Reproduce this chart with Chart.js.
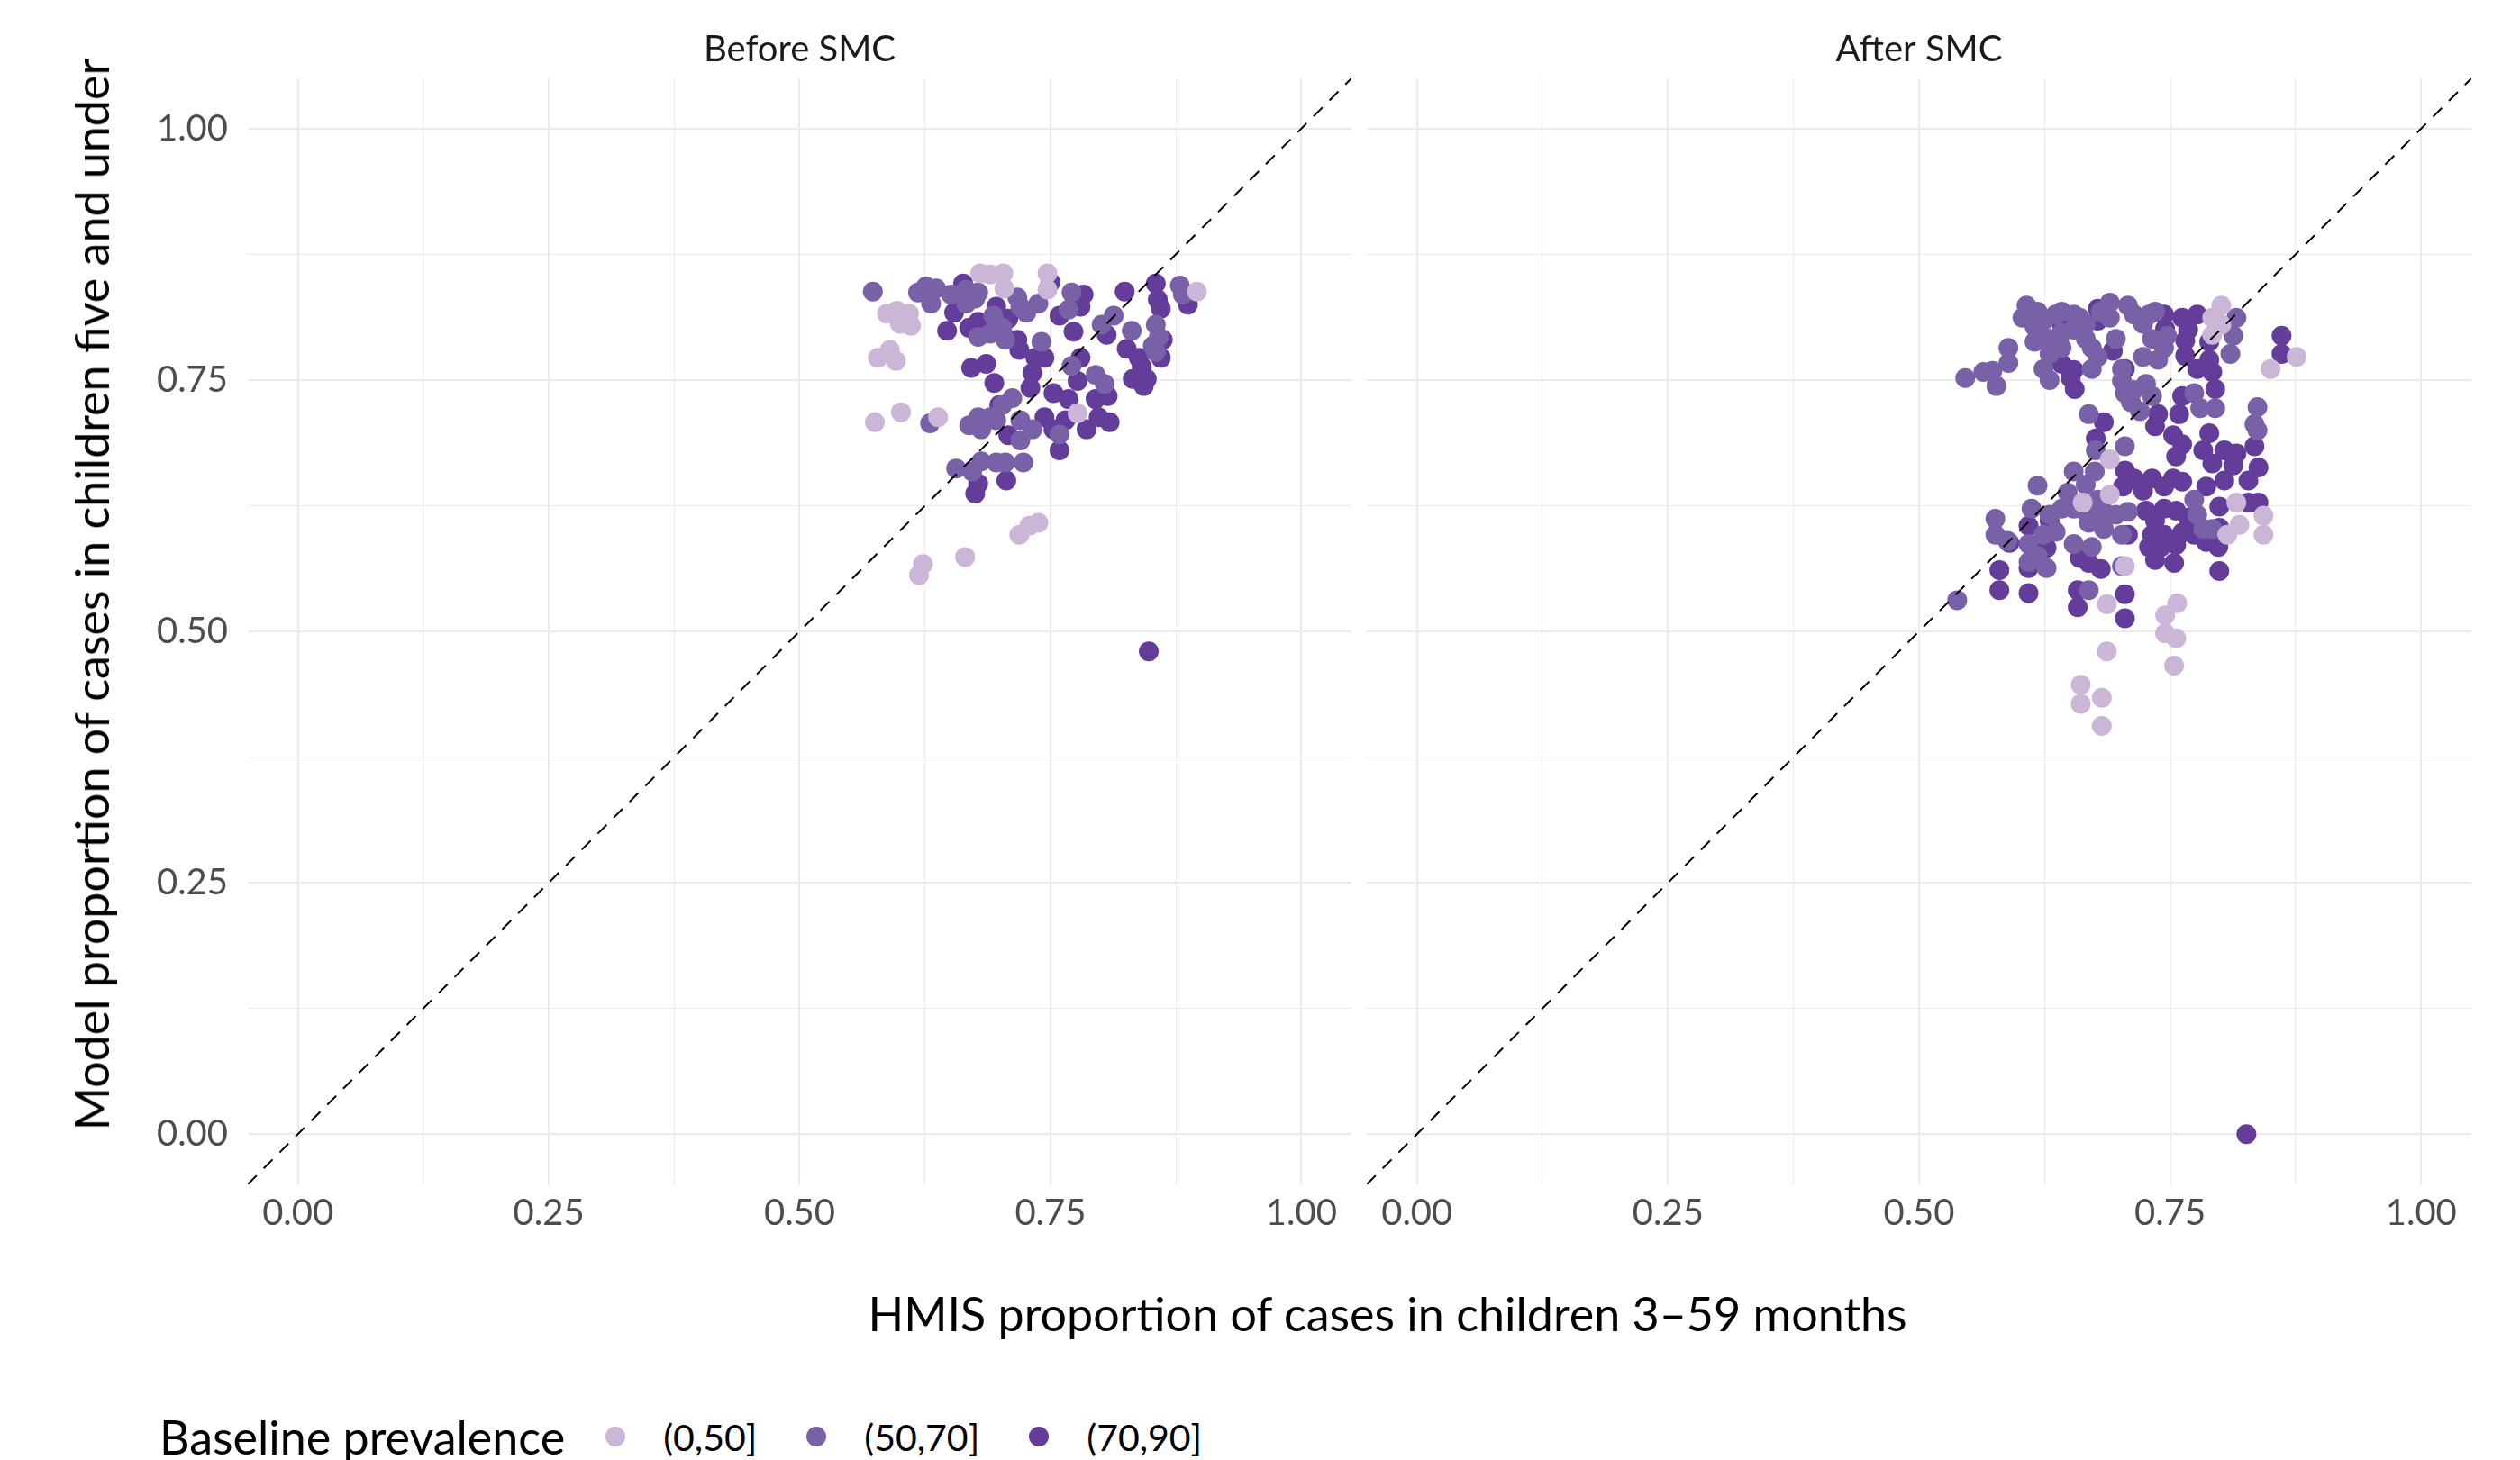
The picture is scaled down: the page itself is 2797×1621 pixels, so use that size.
<!DOCTYPE html>
<html>
<head>
<meta charset="utf-8">
<script src="https://cdn.jsdelivr.net/npm/chart.js@4.4.1/dist/chart.umd.min.js"></script>
<style>
  html, body { margin: 0; padding: 0; background: #fff; }
  body { width: 2797px; height: 1621px; position: relative; overflow: hidden; font-family: Lato, sans-serif; }
  #before { position: absolute; left: 0; top: 0; }
  #after { position: absolute; left: 1505px; top: 0; z-index: 1; }
  #xTitle { position: absolute; left: 1540px; top: 1427px; transform: translateX(-50%); white-space: nowrap;
            font-size: 52px; color: #000; }
  #yTitle { position: absolute; left: 101px; top: 660px; transform: translate(-50%, -50%) rotate(-90deg);
            white-space: nowrap; font-size: 52px; color: #000; }
  #legend { position: absolute; left: 177px; top: 1564px; display: flex; align-items: center; white-space: nowrap; }
  #legend .ttl { font-size: 52px; color: #000; margin-right: 45px; }
  #legend .dot { width: 22px; height: 22px; border-radius: 50%; margin-right: 42px; }
  #legend .lab { font-size: 41px; color: #000; margin-right: 55px; }
</style>
</head>
<body>
<canvas id="before" width="1511" height="1400"></canvas>
<canvas id="after" width="1292" height="1400"></canvas>
<div id="yTitle">Model proportion of cases in children five and under</div>
<div id="xTitle">HMIS proportion of cases in children 3–59 months</div>
<div id="legend"></div>
<script>
// baseline prevalence groups
const categories = ["(0,50]", "(50,70]", "(70,90]"];
const colors = ["#CBB6D8", "#7961A8", "#633D99"];

// axis breaks
const majorBreaks = [0, 0.25, 0.5, 0.75, 1];
const minorBreaks = [0.125, 0.375, 0.625, 0.875];
const breakLabels = ["0.00", "0.25", "0.50", "0.75", "1.00"];
const refLine = [-0.05, 1.05];

// [HMIS proportion, model proportion]
const beforeLow = [
  [0.680,0.856],[0.690,0.855],[0.703,0.856],[0.704,0.841],[0.747,0.856],[0.747,0.840],[0.896,0.838],
  [0.587,0.816],[0.597,0.819],[0.609,0.816],[0.611,0.804],[0.600,0.806],
  [0.578,0.772],[0.590,0.780],[0.596,0.769],
  [0.575,0.708],[0.601,0.718],[0.638,0.713],
  [0.719,0.596],[0.729,0.605],[0.738,0.608],
  [0.665,0.574],[0.623,0.567],[0.619,0.556],[0.777,0.717]
];
const beforeMid = [
  [0.573,0.838],[0.618,0.837],[0.626,0.843],[0.636,0.841],[0.631,0.826],
  [0.651,0.835],[0.666,0.840],[0.675,0.831],[0.678,0.837],[0.666,0.826],
  [0.693,0.814],[0.702,0.802],[0.690,0.796],[0.705,0.790],[0.678,0.793],
  [0.717,0.832],[0.726,0.817],[0.738,0.826],[0.720,0.823],
  [0.771,0.837],[0.768,0.820],[0.813,0.814],[0.801,0.805],[0.831,0.799],
  [0.855,0.805],[0.852,0.784],[0.855,0.778],[0.858,0.793],[0.879,0.844],[0.882,0.835],
  [0.741,0.788],[0.771,0.764],[0.795,0.755],[0.804,0.746],
  [0.712,0.732],[0.702,0.725],[0.690,0.713],
  [0.669,0.705],[0.681,0.701],[0.696,0.710],[0.678,0.713],
  [0.720,0.710],[0.732,0.701],[0.720,0.690],[0.759,0.696],[0.630,0.707],
  [0.656,0.662],[0.672,0.659],[0.681,0.669],[0.696,0.668],[0.705,0.668],[0.723,0.668]
];
const beforeHigh = [
  [0.663,0.846],[0.654,0.817],[0.647,0.799],[0.669,0.802],[0.678,0.808],[0.696,0.823],[0.708,0.811],
  [0.717,0.790],[0.719,0.780],
  [0.750,0.847],[0.759,0.814],[0.774,0.832],[0.783,0.835],[0.780,0.823],[0.773,0.798],
  [0.824,0.838],[0.855,0.846],[0.857,0.830],[0.860,0.821],[0.806,0.795],
  [0.826,0.781],[0.838,0.772],[0.841,0.763],[0.860,0.772],[0.862,0.790],
  [0.832,0.751],[0.846,0.751],[0.843,0.744],[0.887,0.825],
  [0.671,0.762],[0.686,0.766],[0.694,0.747],
  [0.735,0.772],[0.744,0.772],[0.732,0.757],[0.730,0.742],[0.780,0.772],
  [0.753,0.737],[0.768,0.731],[0.777,0.749],[0.795,0.731],[0.807,0.734],[0.809,0.708],
  [0.744,0.713],[0.765,0.710],[0.786,0.701],[0.798,0.713],[0.753,0.701],
  [0.759,0.680],[0.708,0.695],[0.699,0.725],
  [0.678,0.647],[0.675,0.637],[0.706,0.650],[0.848,0.480]
];

const afterLow = [
  [0.801,0.824],[0.792,0.812],[0.792,0.795],[0.801,0.805],[0.850,0.761],[0.876,0.773],
  [0.690,0.671],[0.690,0.636],[0.663,0.628],[0.816,0.628],[0.819,0.606],[0.807,0.596],
  [0.843,0.615],[0.843,0.596],
  [0.705,0.565],[0.687,0.527],[0.757,0.528],[0.745,0.516],[0.745,0.498],[0.756,0.493],[0.754,0.466],
  [0.687,0.480],[0.661,0.447],[0.661,0.428],[0.682,0.434],[0.682,0.406]
];
const afterMid = [
  [0.607,0.824],[0.618,0.818],[0.603,0.812],[0.615,0.803],[0.624,0.809],[0.636,0.815],[0.642,0.818],
  [0.654,0.815],[0.660,0.812],[0.666,0.806],[0.615,0.788],[0.630,0.791],[0.642,0.797],[0.654,0.800],
  [0.666,0.791],[0.672,0.782],[0.678,0.773],[0.642,0.782],[0.630,0.776],[0.624,0.761],[0.630,0.750],
  [0.672,0.761],[0.690,0.827],[0.681,0.818],[0.690,0.812],[0.696,0.791],[0.708,0.824],[0.714,0.815],
  [0.723,0.806],[0.729,0.815],[0.735,0.818],[0.732,0.791],[0.723,0.773],[0.738,0.770],[0.744,0.782],
  [0.747,0.794],[0.702,0.761],[0.702,0.749],[0.705,0.737],[0.714,0.740],[0.711,0.728],[0.726,0.746],
  [0.732,0.734],[0.720,0.719],[0.774,0.737],[0.780,0.722],[0.795,0.722],[0.810,0.776],[0.813,0.794],
  [0.816,0.812],[0.837,0.723],[0.834,0.706],[0.837,0.700],
  [0.546,0.752],[0.564,0.758],[0.573,0.759],[0.577,0.744],[0.589,0.782],[0.589,0.767],
  [0.669,0.716],[0.676,0.680],[0.705,0.684],[0.654,0.659],[0.675,0.659],[0.666,0.646],[0.618,0.645],
  [0.648,0.638],[0.612,0.622],[0.630,0.616],[0.642,0.622],[0.654,0.622],[0.666,0.619],[0.678,0.631],
  [0.684,0.619],[0.696,0.616],[0.708,0.619],[0.669,0.608],[0.684,0.602],[0.702,0.596],
  [0.576,0.612],[0.576,0.596],[0.588,0.590],[0.609,0.587],[0.624,0.596],[0.636,0.599],[0.654,0.587],
  [0.672,0.584],[0.609,0.569],[0.627,0.563],[0.618,0.575],[0.669,0.541],[0.702,0.565],[0.538,0.531],
  [0.777,0.616],[0.783,0.602],[0.792,0.602],[0.774,0.631]
];
const afterHigh = [
  [0.678,0.821],[0.678,0.809],[0.642,0.806],[0.744,0.815],[0.745,0.801],[0.762,0.812],[0.777,0.815],
  [0.768,0.800],[0.765,0.789],[0.789,0.788],[0.693,0.779],[0.642,0.766],[0.654,0.760],[0.651,0.752],
  [0.655,0.741],[0.705,0.761],[0.765,0.774],[0.777,0.761],[0.789,0.770],[0.792,0.758],[0.795,0.741],
  [0.762,0.734],[0.861,0.794],[0.861,0.776],[0.684,0.708],[0.676,0.692],[0.735,0.704],[0.738,0.716],
  [0.759,0.716],[0.753,0.695],[0.762,0.686],[0.756,0.674],[0.789,0.697],[0.783,0.680],[0.792,0.667],
  [0.804,0.680],[0.816,0.677],[0.813,0.665],[0.834,0.684],[0.838,0.663],[0.828,0.650],[0.804,0.650],
  [0.786,0.644],[0.828,0.628],[0.838,0.628],[0.799,0.624],[0.799,0.603],[0.705,0.660],[0.714,0.652],
  [0.703,0.644],[0.732,0.652],[0.753,0.652],[0.762,0.649],[0.744,0.644],[0.723,0.640],[0.726,0.620],
  [0.735,0.610],[0.744,0.622],[0.756,0.620],[0.768,0.613],[0.762,0.598],[0.744,0.596],[0.732,0.596],
  [0.729,0.584],[0.741,0.584],[0.756,0.586],[0.774,0.596],[0.786,0.589],[0.798,0.584],[0.735,0.571],
  [0.754,0.568],[0.799,0.560],[0.708,0.596],[0.660,0.573],[0.681,0.562],[0.669,0.568],[0.630,0.610],
  [0.609,0.605],[0.627,0.583],[0.590,0.588],[0.580,0.561],[0.580,0.541],[0.609,0.538],[0.658,0.541],
  [0.658,0.524],[0.705,0.537],[0.705,0.513],[0.609,0.563],[0.826,0.000]
];

function toXY(pts) {
  return pts.map(p => ({ x: p[0], y: p[1] }));
}

function axis(extra) {
  return Object.assign({
    type: "linear",
    min: refLine[0],
    max: refLine[1],
    border: { display: false },
    grid: {
      color: "#EBEBEB",
      drawTicks: false,
      lineWidth: ctx => majorBreaks.includes(ctx.tick.value) ? 2.2 : 1.1
    },
    afterBuildTicks: scale => {
      scale.ticks = majorBreaks.concat(minorBreaks).sort((a, b) => a - b).map(v => ({ value: v }));
    },
    ticks: {
      autoSkip: false,
      maxRotation: 0,
      color: "#4D4D4D",
      font: { family: "Lato", size: 40 },
      callback: value => {
        const i = majorBreaks.indexOf(value);
        return i >= 0 ? breakLabels[i] : "";
      }
    }
  }, extra);
}

function makePanel(id, title, groups, leftSide) {
  const datasets = [{
    label: "y = x",
    data: refLine.map(v => ({ x: v, y: v })),
    showLine: true,
    borderColor: "#000",
    borderWidth: 2,
    borderDash: [14, 11],
    pointRadius: 0,
    order: 0
  }];
  groups.forEach((pts, i) => {
    datasets.push({
      label: categories[i],
      data: toXY(pts),
      backgroundColor: colors[i],
      borderWidth: 0,
      pointRadius: 11,
      pointHoverRadius: 11,
      order: i + 1
    });
  });

  const x = axis({
    afterFit: s => { s.height = 85; s.paddingLeft = 0; s.paddingRight = 0; }
  });
  x.ticks.padding = 8;

  let y;
  if (leftSide) {
    y = axis({ afterFit: s => { s.width = 275; s.paddingTop = 0; s.paddingBottom = 0; } });
    y.ticks.padding = 22;
  } else {
    y = axis({ afterFit: s => { s.width = 0; s.paddingTop = 0; s.paddingBottom = 0; } });
    y.ticks.display = false;
  }

  return new Chart(document.getElementById(id), {
    type: "scatter",
    data: { datasets: datasets },
    options: {
      responsive: false,
      animation: false,
      devicePixelRatio: 1,
      layout: { padding: leftSide ? { left: 0, right: 0, top: 0, bottom: 0 } : { left: 12, right: 54, top: 0, bottom: 0 } },
      plugins: {
        legend: { display: false },
        tooltip: { enabled: false },
        title: {
          display: true,
          text: title,
          fullSize: false,
          color: "#1A1A1A",
          font: { family: "Lato", size: 40, weight: "normal" },
          padding: { top: 31, bottom: 8 }
        }
      },
      scales: { x: x, y: y }
    }
  });
}

makePanel("before", "Before SMC", [beforeLow, beforeMid, beforeHigh], true);
makePanel("after", "After SMC", [afterLow, afterMid, afterHigh], false);

// legend
const legend = document.getElementById("legend");
const ttl = document.createElement("span");
ttl.className = "ttl";
ttl.textContent = "Baseline prevalence";
legend.appendChild(ttl);
categories.forEach((c, i) => {
  const dot = document.createElement("span");
  dot.className = "dot";
  dot.style.background = colors[i];
  legend.appendChild(dot);
  const lab = document.createElement("span");
  lab.className = "lab";
  lab.textContent = c;
  legend.appendChild(lab);
});
</script>
</body>
</html>
